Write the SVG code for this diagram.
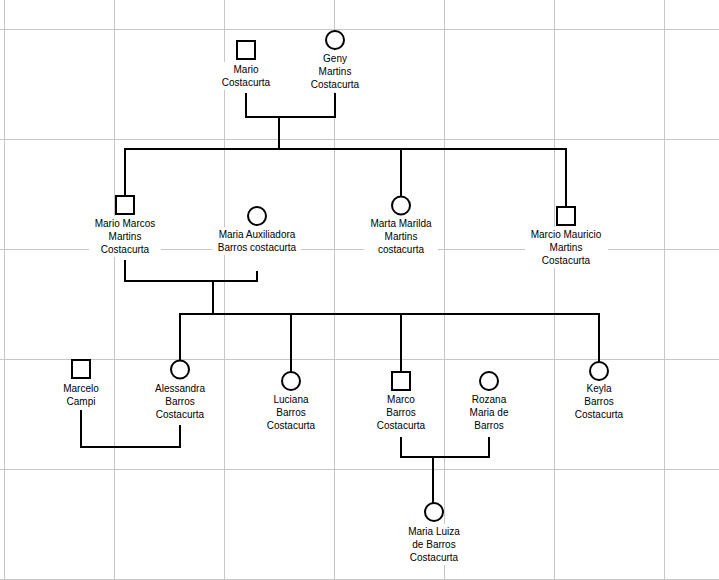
<svg xmlns="http://www.w3.org/2000/svg" width="719" height="580" viewBox="0 0 719 580">
<style>
.grid{stroke:#c6c6c6;stroke-width:1;fill:none}
.conn{stroke:#000;stroke-width:2;fill:none;stroke-linejoin:miter;stroke-linecap:butt}
.shape{stroke:#000;stroke-width:2;fill:#fff}
.lbg{fill:#fff;stroke:none}
text{font-family:"Liberation Sans",Arial,sans-serif;font-size:10px;fill:#000;text-anchor:middle}
</style>
<rect x="0" y="0" width="719" height="580" fill="#fff"/>
<g id="grid" class="grid">
<path d="M4.5 0V580M114.5 0V580M224.5 0V580M334.5 0V580M444.5 0V580M554.5 0V580M664.5 0V580"/>
<path d="M0 29.5H719M0 139.5H719M0 249.5H719M0 359.5H719M0 469.5H719M0 579.5H719"/>
</g>
<g id="connectors" class="conn">
<path d="M246 93V117H335V93"/>
<path d="M279 117V149"/>
<path d="M124 149H567"/>
<path d="M125 149V196M401 149V197M566 149V207"/>
<path d="M125 260V281H257V271"/>
<path d="M213 281V314"/>
<path d="M179 314H600"/>
<path d="M180 314V361M291 314V372M401 314V372M599 314V362"/>
<path d="M81 410V447H180V425"/>
<path d="M401 437V457H489V437"/>
<path d="M433 457V503"/>
</g>
<g id="mario">
<rect class="shape" x="237" y="41" width="18" height="18"/>
<rect class="lbg" x="216" y="62" width="60" height="28"/>
<text x="246" y="72.5">Mario</text>
<text x="246" y="85.5">Costacurta</text>
</g>
<g id="geny">
<circle class="shape" cx="335" cy="40" r="9"/>
<rect class="lbg" x="305" y="51" width="60" height="41"/>
<text x="335" y="61.5">Geny</text>
<text x="335" y="74.5">Martins</text>
<text x="335" y="87.5">Costacurta</text>
</g>
<g id="mario-marcos">
<rect class="shape" x="116" y="196" width="18" height="18"/>
<rect class="lbg" x="89" y="216" width="72" height="41"/>
<text x="125" y="226.5">Mario Marcos</text>
<text x="125" y="239.5">Martins</text>
<text x="125" y="252.5">Costacurta</text>
</g>
<g id="maria-auxiliadora">
<circle class="shape" cx="257" cy="216" r="9"/>
<rect class="lbg" x="212" y="227" width="89" height="28"/>
<text x="257" y="237.5">Maria Auxiliadora</text>
<text x="257" y="250.5">Barros costacurta</text>
</g>
<g id="marta-marilda">
<circle class="shape" cx="401" cy="205.5" r="9"/>
<rect class="lbg" x="364" y="216" width="74" height="41"/>
<text x="401" y="226.5">Marta Marilda</text>
<text x="401" y="239.5">Martins</text>
<text x="401" y="252.5">costacurta</text>
</g>
<g id="marcio-mauricio">
<rect class="shape" x="557" y="207" width="18" height="18"/>
<rect class="lbg" x="525" y="227" width="83" height="41"/>
<text x="566" y="237.5">Marcio Mauricio</text>
<text x="566" y="250.5">Martins</text>
<text x="566" y="263.5">Costacurta</text>
</g>
<g id="marcelo">
<rect class="shape" x="72" y="360" width="18" height="18"/>
<rect class="lbg" x="57" y="381" width="48" height="28"/>
<text x="81" y="391.5">Marcelo</text>
<text x="81" y="404.5">Campi</text>
</g>
<g id="alessandra">
<circle class="shape" cx="180" cy="369.5" r="9"/>
<rect class="lbg" x="150" y="381" width="60" height="41"/>
<text x="180" y="391.5">Alessandra</text>
<text x="180" y="404.5">Barros</text>
<text x="180" y="417.5">Costacurta</text>
</g>
<g id="luciana">
<circle class="shape" cx="291" cy="381" r="9"/>
<rect class="lbg" x="261" y="392" width="60" height="41"/>
<text x="291" y="402.5">Luciana</text>
<text x="291" y="415.5">Barros</text>
<text x="291" y="428.5">Costacurta</text>
</g>
<g id="marco">
<rect class="shape" x="392" y="372" width="18" height="18"/>
<rect class="lbg" x="371" y="392" width="60" height="41"/>
<text x="401" y="402.5">Marco</text>
<text x="401" y="415.5">Barros</text>
<text x="401" y="428.5">Costacurta</text>
</g>
<g id="rozana">
<circle class="shape" cx="489" cy="381" r="9"/>
<rect class="lbg" x="463" y="392" width="52" height="41"/>
<text x="489" y="402.5">Rozana</text>
<text x="489" y="415.5">Maria de</text>
<text x="489" y="428.5">Barros</text>
</g>
<g id="keyla">
<circle class="shape" cx="599" cy="371" r="9"/>
<rect class="lbg" x="569" y="381" width="60" height="41"/>
<text x="599" y="391.5">Keyla</text>
<text x="599" y="404.5">Barros</text>
<text x="599" y="417.5">Costacurta</text>
</g>
<g id="maria-luiza">
<circle class="shape" cx="434" cy="512" r="9"/>
<rect class="lbg" x="402" y="524" width="64" height="41"/>
<text x="434" y="534.5">Maria Luiza</text>
<text x="434" y="547.5">de Barros</text>
<text x="434" y="560.5">Costacurta</text>
</g>
</svg>
